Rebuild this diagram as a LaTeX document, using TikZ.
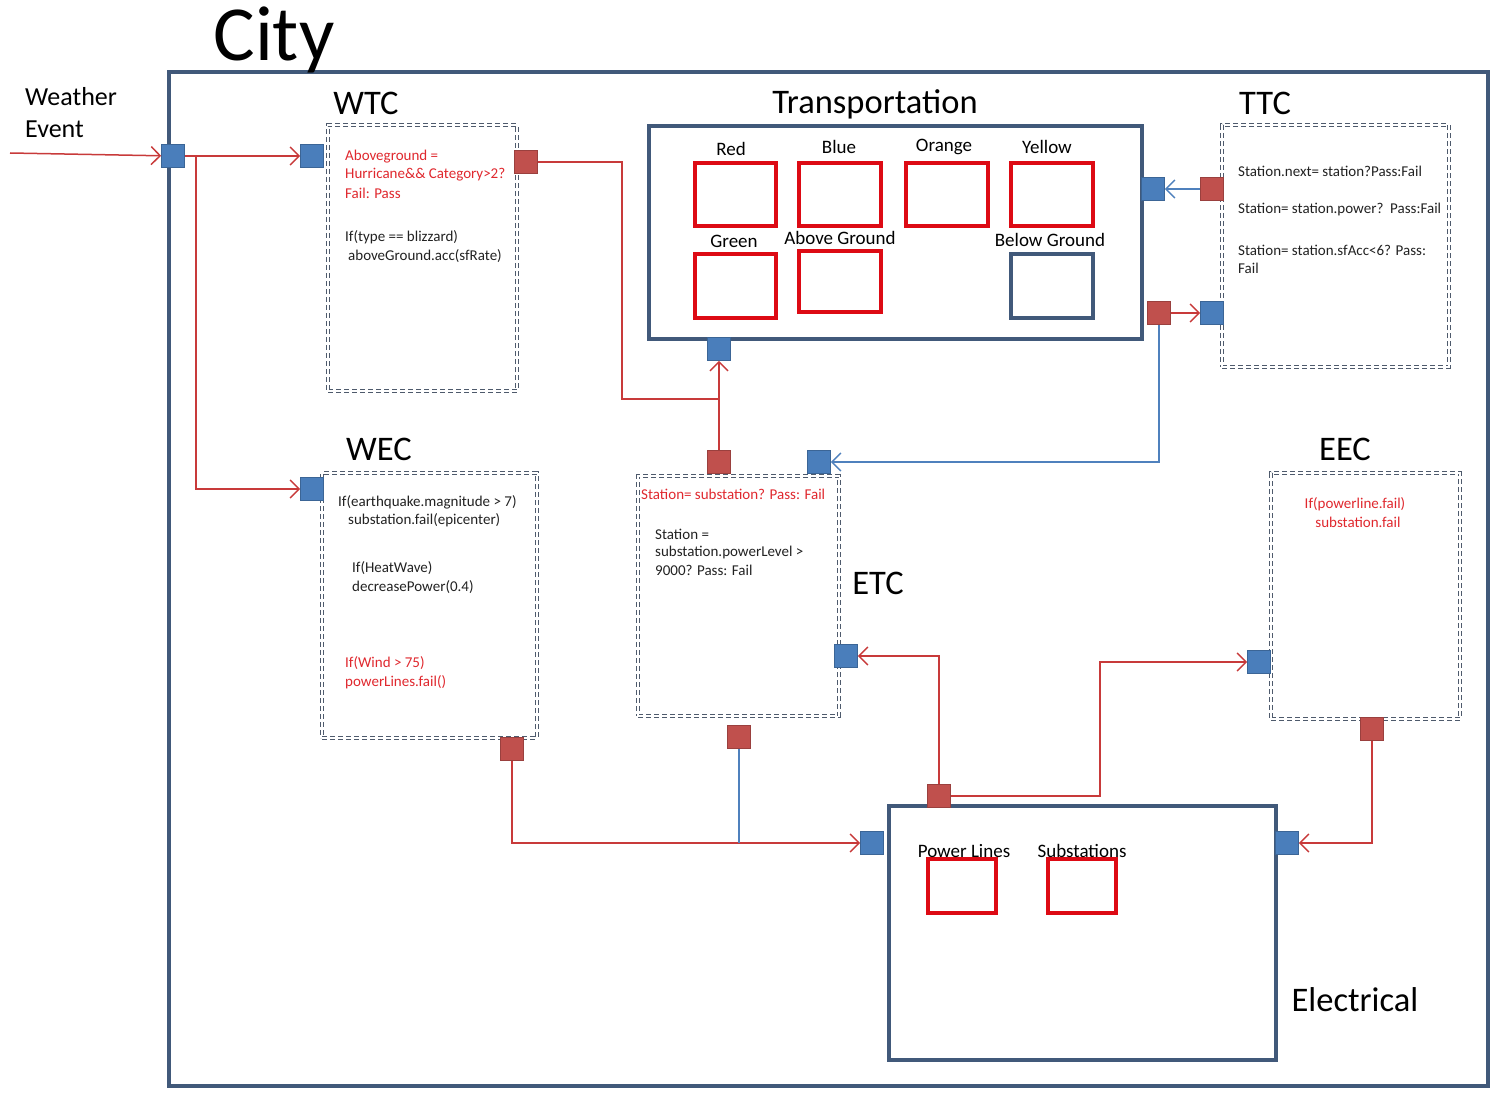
\documentclass[tikz,border=0pt]{standalone}
\usepackage{fontspec}
\setmainfont{Carlito}
\usetikzlibrary{arrows.meta}
\definecolor{boxblue}{HTML}{41597A}
\definecolor{portblue}{HTML}{4A7EBB}
\definecolor{portred}{HTML}{C0504D}
\definecolor{rlinec}{HTML}{C83A3A}
\definecolor{blinec}{HTML}{4F81BD}
\definecolor{redbox}{HTML}{DD0A14}
\definecolor{dashc}{HTML}{4E5A6C}
\definecolor{redtext}{HTML}{E0282E}
\definecolor{darktext}{HTML}{222222}
\tikzset{
  citybox/.style={draw=boxblue, line width=4pt, inner sep=0pt},
  subbox/.style={draw=boxblue, line width=4pt, inner sep=0pt},
  redsq/.style={draw=redbox, line width=4pt, inner sep=0pt},
  bluesq/.style={draw=boxblue, line width=4pt, inner sep=0pt},
  dbox/.style={draw=dashc, line width=1.1pt, double=white, double distance=2pt, dash pattern=on 5pt off 3pt, inner sep=0pt},
  bport/.style={fill=portblue, draw=portblue!80!black, line width=0.6pt, minimum size=23pt, inner sep=0pt},
  rport/.style={fill=portred, draw=portred!80!black, line width=0.6pt, minimum size=23pt, inner sep=0pt},
  arr/.style={-{Straight Barb[length=9pt,width=18pt,line width=1.5pt]}},
  rline/.style={draw=rlinec, line width=1.5pt},
  bline/.style={draw=blinec, line width=1.5pt},
  big/.style={font=\fontsize{34.5}{38}\selectfont, text=black, inner sep=0pt},
  mid/.style={font=\fontsize{19}{21}\selectfont, text=black, inner sep=0pt},
  sm/.style={font=\fontsize{15}{17}\selectfont, text=darktext, inner sep=0pt, anchor=west},
  smr/.style={font=\fontsize{15}{17}\selectfont, text=redtext, inner sep=0pt, anchor=west},
}
\begin{document}
\begin{tikzpicture}[x=1pt, y=-1pt]
\useasboundingbox (0,0) rectangle (1490,1094);
\fill[white] (0,0) rectangle (1490,1094);

% City
\node[citybox, minimum width=1319pt, minimum height=1014pt] (city) at (828.5,579) {};
\node[font=\fontsize{78}{82}\selectfont, inner sep=0pt] (citylbl) at (274,40) {City};
\node[font=\fontsize{26}{28}\selectfont, inner sep=0pt, anchor=west] (weather) at (25,97) {Weather};
\node[font=\fontsize{26}{28}\selectfont, inner sep=0pt, anchor=west] (event) at (25,129) {Event};

% Labels
\node[big] (wtclbl) at (366,103) {WTC};
\node[big] (weclbl) at (379,449) {WEC};
\node[big] (trlbl) at (875,104) {Transportation};
\node[big] (ttclbl) at (1265,103) {TTC};
\node[big] (etclbl) at (878,583) {ETC};
\node[big] (eeclbl) at (1345,449) {EEC};
\node[big] (ellbl) at (1355,1000) {Electrical};

% Transportation
\node[subbox, minimum width=493pt, minimum height=213pt] (trans) at (895.5,232.5) {};
\node[redsq, minimum width=81pt, minimum height=63pt] (rred) at (735.5,194.5) {};
\node[redsq, minimum width=82pt, minimum height=63pt] (rblue) at (840,194.5) {};
\node[redsq, minimum width=82pt, minimum height=63pt] (rorange) at (947,194.5) {};
\node[redsq, minimum width=82pt, minimum height=63pt] (ryellow) at (1052,194.5) {};
\node[redsq, minimum width=81pt, minimum height=64pt] (rgreen) at (735.5,286) {};
\node[redsq, minimum width=82pt, minimum height=61pt] (rabove) at (840,281.5) {};
\node[bluesq, minimum width=82pt, minimum height=64pt] (rbelow) at (1052,286) {};
\node[mid] (lred) at (731,149) {Red};
\node[mid] (lblue) at (839,147) {Blue};
\node[mid] (lorange) at (944,147) {Orange};
\node[mid] (lyellow) at (1047,147) {Yellow};
\node[mid] (lgreen) at (734,241) {Green};
\node[mid] (labove) at (840,238) {Above Ground};
\node[mid] (lbelow) at (1050,240) {Below Ground};

% Electrical
\node[subbox, minimum width=387pt, minimum height=254pt] (elec) at (1082.5,933) {};
\node[redsq, minimum width=68pt, minimum height=54pt] (rpl) at (962,886) {};
\node[redsq, minimum width=68pt, minimum height=54pt] (rsub) at (1082,886) {};
\node[mid] (lpl) at (964,851) {Power Lines};
\node[mid] (lsub) at (1082,851) {Substations};

% Dashed boxes
\node[dbox, minimum width=189pt, minimum height=266pt] (wtc) at (422.5,258) {};
\node[dbox, minimum width=215pt, minimum height=265pt] (wec) at (429.5,605.5) {};
\node[dbox, minimum width=201pt, minimum height=240pt] (etc) at (738.5,596) {};
\node[dbox, minimum width=227pt, minimum height=242pt] (ttc) at (1335.5,246) {};
\node[dbox, minimum width=189pt, minimum height=246pt] (eec) at (1365.5,596) {};

% Texts
\node[smr] (w1) at (345,157) {Aboveground =};
\node[smr] (w2) at (345,175) {Hurricane\&\& Category>2?};
\node[smr] (w3) at (345,193) {Fail: Pass};
\node[sm] (w4) at (345,237) {If(type == blizzard)};
\node[sm] (w5) at (348,256) {aboveGround.acc(sfRate)};

\node[sm] (t1) at (1238,171) {Station.next= station?Pass:Fail};
\node[sm] (t2) at (1238,210) {Station= station.power?\ \ Pass:Fail};
\node[sm] (t3) at (1238,250) {Station= station.sfAcc<6? Pass:};
\node[sm] (t4) at (1238,268) {Fail};

\node[smr] (e1) at (641,494) {Station= substation? Pass: Fail};
\node[sm] (e2) at (655,534) {Station =};
\node[sm] (e3) at (655,552) {substation.powerLevel >};
\node[sm] (e4) at (655,570) {9000? Pass: Fail};

\node[sm] (v1) at (338,502) {If(earthquake.magnitude > 7)};
\node[sm] (v2) at (348,520) {substation.fail(epicenter)};
\node[sm] (v3) at (352,568) {If(HeatWave)};
\node[sm] (v4) at (352,587) {decreasePower(0.4)};
\node[smr] (v5) at (345,663) {If(Wind > 75)};
\node[smr] (v6) at (345,682) {powerLines.fail()};

\node[smr, anchor=center] (x1) at (1355,504) {If(powerline.fail)};
\node[smr, anchor=center] (x2) at (1358,522) {substation.fail};

% Ports
\node[bport] (cityin) at (173,156) {};
\node[bport] (wtcin) at (312,156) {};
\node[rport] (wtcout) at (526,162) {};
\node[bport] (wecin) at (312,489) {};
\node[rport] (wecout) at (512,749) {};
\node[bport] (trin) at (719,349) {};
\node[bport] (trin2) at (1153,189) {};
\node[rport] (trout) at (1159,313) {};
\node[rport] (ttcout) at (1212,189) {};
\node[bport] (ttcin) at (1212,313) {};
\node[rport] (etcout) at (719,462) {};
\node[bport] (etcin) at (819,462) {};
\node[bport] (etcin2) at (846,656) {};
\node[rport] (etcout2) at (739,737) {};
\node[rport] (elout) at (939,796) {};
\node[bport] (elin) at (872,843) {};
\node[bport] (elin2) at (1287,843) {};
\node[bport] (eecin) at (1259,662) {};
\node[rport] (eecout) at (1372,729) {};

% Junction coordinates
\coordinate (wstart) at (10,153);
\coordinate (jw) at (196,156);
\coordinate (jt) at (719,399);
\coordinate (je) at (739,843);

% Connectors
\draw[rline, arr] (wstart) -- (cityin);
\draw[rline, arr] (cityin) -- (wtcin);
\draw[rline, arr] (jw) |- (wecin);
\draw[rline] (wtcout) -- (622,162) |- (jt);
\draw[rline, arr] (etcout) -- (trin);
\draw[bline, arr] (ttcout) -- (trin2);
\draw[rline, arr] (trout) -- (ttcin);
\draw[bline, arr] (trout) |- (etcin);
\draw[rline, arr] (wecout) |- (elin);
\draw[bline] (etcout2) -- (je);
\draw[rline, arr] (elout) |- (etcin2);
\draw[rline, arr] (elout) -- (1100,796) |- (eecin);
\draw[rline, arr] (eecout) |- (elin2);
\end{tikzpicture}
\end{document}
